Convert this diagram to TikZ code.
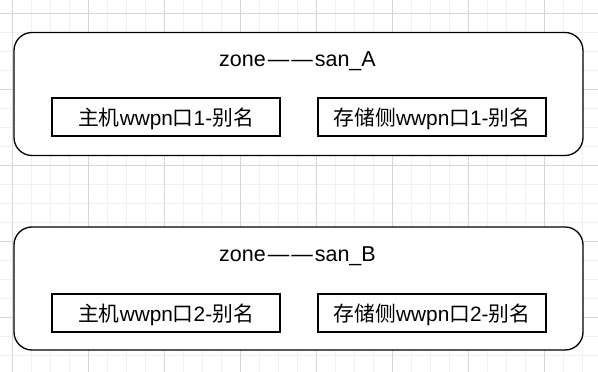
\documentclass[tikz,border=0pt]{standalone}
\usepackage{fontspec}
\setmainfont{Liberation Sans}
\newfontfamily\cjk{Noto Sans CJK SC}
\usetikzlibrary{positioning}
\definecolor{gridminor}{RGB}{240,240,240}
\definecolor{gridmajor}{RGB}{214,214,214}
\newcommand{\zdash}{\hspace{2pt}—\hspace{2pt}—\hspace{2pt}}

\begin{document}
\begin{tikzpicture}[x=1pt, y=-1pt,
    zone/.style={draw, rounded corners=18pt, line width=1.3pt, fill=white,
                 minimum width=569pt, minimum height=123pt},
    alias/.style={draw, line width=1.3pt, fill=white, minimum width=228pt,
                  minimum height=38pt, inner sep=0pt, text height=18pt, text depth=2pt,
                  font=\fontsize{20.8}{24}\selectfont},
    ttl/.style={anchor=base, font=\fontsize{21.5}{25}\selectfont}
]
    \useasboundingbox (0,0) rectangle (598,372);
    % background grid
    \foreach \k in {0,...,30} \draw[gridminor, line width=0.8pt] ({12.7+19*\k},0) -- ({12.7+19*\k},372);
    \foreach \k in {0,...,18} \draw[gridminor, line width=0.8pt] (0,{13+19*\k}) -- (598,{13+19*\k});
    \foreach \k in {0,4,...,28} \draw[gridmajor, line width=0.8pt] ({12.7+19*\k},0) -- ({12.7+19*\k},372);
    \foreach \k in {0,4,...,16} \draw[gridmajor, line width=0.8pt] (0,{13+19*\k}) -- (598,{13+19*\k});

    % zone san_A
    \node[zone] (sanA) at (298.5,94) {};
    \node[ttl] (titleA) at (297.5,66.5) {zone\zdash san\_A};
    \node[alias] (hostA) at (166,117) {{\cjk 主机}wwpn{\cjk 口}1-{\cjk 别名}};
    \node[alias] (storA) at (432,117) {{\cjk 存储侧}wwpn{\cjk 口}1-{\cjk 别名}};

    % zone san_B
    \node[zone] (sanB) at (298.5,288.5) {};
    \node[ttl] (titleB) at (297.5,261.5) {zone\zdash san\_B};
    \node[alias] (hostB) at (166,313) {{\cjk 主机}wwpn{\cjk 口}2-{\cjk 别名}};
    \node[alias] (storB) at (432,313) {{\cjk 存储侧}wwpn{\cjk 口}2-{\cjk 别名}};
\end{tikzpicture}
\end{document}
